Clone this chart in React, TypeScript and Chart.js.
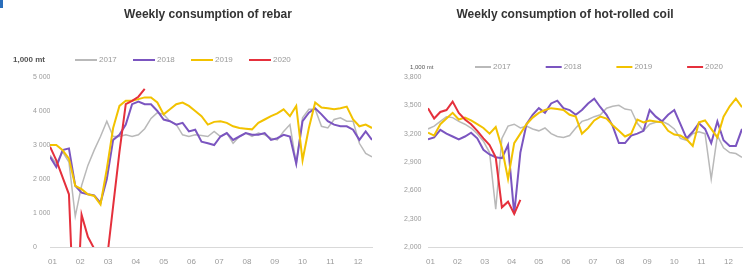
import React, { useEffect, useRef } from "react";
import { Chart, registerables } from "chart.js";

Chart.register(...registerables);

// ---------- data ----------
const monthLabels = ["01", "02", "03", "04", "05", "06", "07", "08", "09", "10", "11", "12"];
// week position (1..52) where each month label sits
const monthTickWeeks = [1.4, 5.8, 10.2, 14.6, 19.0, 23.4, 27.8, 32.2, 36.6, 41.0, 45.4, 49.8];
const yearLabels = ["2017", "2018", "2019", "2020"];

const rebar2017 = [2700, 2450, 2800, 2500, 900, 1800, 2400, 2850, 3250, 3700, 3250, 3250, 3300, 3250, 3300, 3480, 3780, 3950, 3900, 3700, 3600, 3300, 3250, 3300, 3280, 3250, 3400, 3250, 3350, 3050, 3250, 3350, 3250, 3350, 3300, 3200, 3150, 3400, 3600, 2450, 3800, 4050, 4050, 3550, 3500, 3750, 3800, 3700, 3700, 3050, 2750, 2650];
const rebar2018 = [2650, 2350, 2850, 2900, 1800, 1600, 1550, 1520, 1300, 2000, 3150, 3300, 3600, 4200, 4280, 4200, 4200, 4000, 3750, 3700, 3600, 3650, 3400, 3450, 3100, 3050, 3000, 3250, 3350, 3150, 3250, 3350, 3300, 3300, 3350, 3150, 3200, 3300, 3250, 2450, 3700, 3950, 4080, 3900, 3700, 3600, 3550, 3550, 3450, 3150, 3400, 3150];
const rebar2019 = [3000, 3000, 2850, 2600, 1800, 1700, 1550, 1500, 1250, 2300, 3500, 4150, 4300, 4300, 4350, 4400, 4400, 4250, 3900, 4050, 4200, 4250, 4150, 4000, 3850, 3600, 3680, 3700, 3650, 3550, 3500, 3480, 3460, 3650, 3750, 3850, 3930, 4050, 3850, 4150, 2550, 3500, 4250, 4100, 4080, 4050, 4080, 4130, 3750, 3550, 3600, 3500];
const rebar2020 = [2950, 2550, 2050, 1550, -3000, 950, 300, -50, -1500, -400, 1200, 2800, 4200, 4300, 4420, 4650];

const hrc2017 = [3250, 3280, 3330, 3380, 3370, 3330, 3300, 3260, 3200, 3120, 3000, 2400, 3150, 3280, 3300, 3260, 3280, 3250, 3230, 3260, 3200, 3170, 3160, 3180, 3260, 3330, 3350, 3380, 3400, 3470, 3490, 3500, 3460, 3450, 3310, 3230, 3300, 3320, 3330, 3300, 3250, 3150, 3130, 3200, 3220, 3200, 2720, 3180, 3050, 3000, 2990, 2950];
const hrc2018 = [3140, 3160, 3240, 3200, 3170, 3140, 3170, 3210, 3150, 3030, 2980, 2950, 2940, 3080, 2350, 3000, 3300, 3400, 3470, 3420, 3520, 3550, 3470, 3450, 3400, 3450, 3520, 3570, 3480, 3400, 3280, 3100, 3100, 3180, 3200, 3230, 3450, 3380, 3330, 3400, 3450, 3300, 3150, 3220, 3310, 3250, 3100, 3330, 3130, 3070, 3070, 3250];
const hrc2019 = [3210, 3180, 3300, 3360, 3420, 3350, 3370, 3340, 3300, 3260, 3200, 3270, 3050, 2720, 3100, 3200, 3300, 3370, 3420, 3450, 3470, 3460, 3450, 3400, 3380, 3200, 3260, 3340, 3380, 3360, 3290, 3230, 3170, 3200, 3350, 3320, 3340, 3330, 3320, 3230, 3190, 3180, 3140, 3070, 3320, 3340, 3250, 3160, 3380, 3490, 3570, 3480];
const hrc2020 = [3470, 3360, 3430, 3450, 3540, 3420, 3350, 3300, 3230, 3150, 3080, 2950, 2420, 2480, 2350, 2500];

const colors = ["#b9b9b9", "#7b55c0", "#f2c200", "#e5303c"];
const widths = [1.5, 2, 2, 2];
const orders = [3, 2, 1, 0];

const FONT = '"Liberation Sans", Arial, sans-serif';

function groupDigits(v: number, sep: string) {
  return String(v).replace(/\B(?=(\d{3})+(?!\d))/g, sep);
}

type Header = {
  title: string;
  titleX: number;
  titleY: number;
  unit: string;
  unitX: number;
  unitFont: string;
  legendY: number;
  legendX: number;
  legendGap: number;
  lineLen: number;
};

function headerPlugin(h: Header) {
  return {
    id: "header",
    afterDraw(chart: any) {
      const ctx = chart.ctx as CanvasRenderingContext2D;
      ctx.save();
      ctx.font = `bold 12px ${FONT}`;
      ctx.fillStyle = "#333333";
      ctx.textAlign = "center";
      ctx.textBaseline = "middle";
      ctx.fillText(h.title, h.titleX, h.titleY);

      ctx.font = h.unitFont;
      ctx.fillStyle = "#555555";
      ctx.textAlign = "left";
      ctx.fillText(h.unit, h.unitX, h.legendY);

      ctx.font = `8px ${FONT}`;
      chart.data.datasets.forEach((ds: any, i: number) => {
        const x = h.legendX + i * h.legendGap;
        ctx.strokeStyle = ds.borderColor;
        ctx.lineWidth = 2;
        ctx.beginPath();
        ctx.moveTo(x, h.legendY);
        ctx.lineTo(x + h.lineLen, h.legendY);
        ctx.stroke();
        ctx.fillStyle = "#999999";
        ctx.fillText(ds.label, x + h.lineLen + 2, h.legendY);
      });
      ctx.restore();
    },
  };
}

type Cfg = {
  width: number;
  series: number[][];
  yMin: number;
  yMax: number;
  yStep: number;
  sep: string;
  pad: { top: number; left: number; right: number; bottom: number };
  yWidth: number;
  header: Header;
};

function LineChart({ cfg }: { cfg: Cfg }) {
  const ref = useRef<HTMLCanvasElement>(null);
  useEffect(() => {
    const chart = new Chart(ref.current as HTMLCanvasElement, {
      type: "line",
      data: {
        datasets: cfg.series.map((vals, i) => ({
          label: yearLabels[i],
          data: vals.map((v, j) => ({ x: j + 1, y: v })),
          borderColor: colors[i],
          backgroundColor: colors[i],
          borderWidth: widths[i],
          order: orders[i],
          pointRadius: 0,
          tension: 0,
          fill: false,
        })),
      },
      options: {
        responsive: false,
        animation: false,
        layout: { padding: cfg.pad },
        plugins: {
          legend: { display: false },
          title: { display: false },
          tooltip: { enabled: false },
        },
        scales: {
          x: {
            type: "linear",
            min: 1,
            max: 52,
            grid: { display: false, drawTicks: false },
            border: { display: true, color: "#d9d9d9", width: 1 },
            ticks: {
              autoSkip: false,
              maxRotation: 0,
              padding: 10,
              color: "#9a9a9a",
              font: { family: FONT, size: 8 },
              callback: (_v: any, i: number) => monthLabels[i],
            },
            afterBuildTicks: (s: any) => {
              s.ticks = monthTickWeeks.map((v) => ({ value: v }));
            },
            afterFit: (s: any) => {
              s.height = 26;
            },
          },
          y: {
            min: cfg.yMin,
            max: cfg.yMax,
            grid: { display: false, drawTicks: false },
            border: { display: false },
            ticks: {
              stepSize: cfg.yStep,
              crossAlign: "far",
              padding: 0,
              color: "#9a9a9a",
              font: { family: FONT, size: 7 },
              callback: (v: any) => groupDigits(Number(v), cfg.sep),
            },
            afterFit: (s: any) => {
              s.width = cfg.yWidth;
            },
          },
        },
      },
      plugins: [headerPlugin(cfg.header)],
    } as any);
    return () => chart.destroy();
  }, []);
  return <canvas ref={ref} width={cfg.width} height={273} style={{ display: "block" }} />;
}

const leftCfg: Cfg = {
  width: 377,
  series: [rebar2017, rebar2018, rebar2019, rebar2020],
  yMin: 0,
  yMax: 5000,
  yStep: 1000,
  sep: " ",
  pad: { top: 77, left: 33, right: 5, bottom: 0 },
  yWidth: 17,
  header: {
    title: "Weekly consumption of rebar",
    titleX: 208,
    titleY: 15,
    unit: "1,000 mt",
    unitX: 13,
    unitFont: `bold 8px ${FONT}`,
    legendY: 60,
    legendX: 75,
    legendGap: 58,
    lineLen: 22,
  },
};

const rightCfg: Cfg = {
  width: 378,
  series: [hrc2017, hrc2018, hrc2019, hrc2020],
  yMin: 2000,
  yMax: 3800,
  yStep: 300,
  sep: ",",
  pad: { top: 77, left: 27, right: 13, bottom: 0 },
  yWidth: 24,
  header: {
    title: "Weekly consumption of hot-rolled coil",
    titleX: 188,
    titleY: 15,
    unit: "1,000 mt",
    unitX: 33,
    unitFont: `6px ${FONT}`,
    legendY: 67,
    legendX: 98,
    legendGap: 70.7,
    lineLen: 16,
  },
};

export default function App() {
  return (
    <div style={{ position: "absolute", left: 0, top: 0, width: 755, height: 273, background: "#ffffff", overflow: "hidden" }}>
      <div style={{ position: "absolute", left: 0, top: 0, width: 3, height: 8, background: "#2a6ebb" }} />
      <div style={{ position: "absolute", left: 0, top: 0 }}>
        <LineChart cfg={leftCfg} />
      </div>
      <div style={{ position: "absolute", left: 377, top: 0 }}>
        <LineChart cfg={rightCfg} />
      </div>
    </div>
  );
}
